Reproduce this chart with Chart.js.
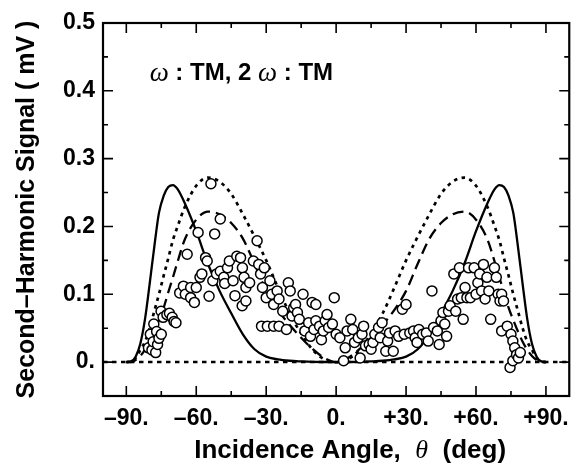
<!DOCTYPE html>
<html>
<head>
<meta charset="utf-8">
<script src="https://cdn.jsdelivr.net/npm/chart.js@4.4.1/dist/chart.umd.min.js"></script>
<style>
    html, body { margin: 0; padding: 0; background: #fff; }
    canvas { display: block; }
</style>
</head>
<body>
<canvas id="chart" width="578" height="466"></canvas>
<script>
// tick values and labels
const xTickValues = [-90, -60, -30, 0, 30, 60, 90];
const xTickLabels = ['–90.', '–60.', '–30.', '0.', '+30.', '+60.', '+90.'];
const xMinorTicks = [-75, -45, -15, 15, 45, 75];
const yTickValues = [0, 0.1, 0.2, 0.3, 0.4, 0.5];
const yTickLabels = ['0.', '0.1', '0.2', '0.3', '0.4', '0.5'];
const yMinorTicks = [0.05, 0.15, 0.25, 0.35, 0.45];

// theory curves
const curveAngles = [-90, -88, -86, -84, -82, -80, -78, -76, -74, -72, -70, -68, -65, -60, -55, -50, -45, -40, -35, -30, -25, -20, -15, -10, -5,
    0, 5, 10, 15, 20, 25, 30, 35, 40, 45, 50, 55, 60, 65, 68, 70, 72, 74, 76, 78, 80, 82, 84, 86, 88, 90];
const solidCurve = [0, 0.001, 0.008, 0.027, 0.063, 0.115, 0.17, 0.22, 0.245, 0.258, 0.261, 0.255, 0.235, 0.193, 0.145, 0.105, 0.072, 0.041, 0.019, 0.008, 0.004, 0.002, 0.001, 0.0003, 0.0001,
    0, 0.0001, 0.0003, 0.001, 0.002, 0.004, 0.008, 0.019, 0.041, 0.072, 0.105, 0.145, 0.193, 0.235, 0.255, 0.261, 0.258, 0.245, 0.22, 0.17, 0.115, 0.063, 0.027, 0.008, 0.001, 0];
const dottedCurve = [0, 0.001, 0.006, 0.018, 0.03, 0.05, 0.075, 0.1, 0.127, 0.153, 0.18, 0.2, 0.228, 0.26, 0.272, 0.266, 0.248, 0.218, 0.185, 0.15, 0.11, 0.072, 0.042, 0.018, 0.004,
    0, 0.004, 0.018, 0.042, 0.072, 0.11, 0.15, 0.185, 0.218, 0.248, 0.266, 0.272, 0.26, 0.228, 0.2, 0.18, 0.153, 0.127, 0.1, 0.075, 0.05, 0.03, 0.018, 0.006, 0.001, 0];
const dashedCurve = [0, 0, 0.003, 0.009, 0.018, 0.03, 0.045, 0.062, 0.08, 0.103, 0.125, 0.148, 0.18, 0.21, 0.222, 0.218, 0.205, 0.182, 0.145, 0.105, 0.077, 0.055, 0.036, 0.019, 0.006,
    0, 0.006, 0.019, 0.036, 0.055, 0.077, 0.105, 0.145, 0.182, 0.205, 0.218, 0.222, 0.21, 0.18, 0.148, 0.125, 0.103, 0.08, 0.062, 0.045, 0.03, 0.018, 0.009, 0.003, 0, 0];
const baselineAngles = [-100, 100];
const baselineValues = [0, 0];

// measured points (open circles)
const pointAngles = [
    -80.5, -79.7, -79.0, -78.5, -78.2, -77.4, -77.0, -76.6, -76.0, -75.1, -75.0, -74.2, -72.6, -71.5, -70.3, -69.5, -68.7,
    -67.1, -65.5, -64.7, -63.9, -62.4, -62.4, -60.8, -60.0, -59.2, -58.4, -57.6, -56.0, -55.3, -54.5, -53.7, -52.9, -52.1, -51.3,
    -49.7, -49.7, -48.2, -47.8, -46.6, -45.8, -44.2, -43.4, -42.6, -41.0, -40.3, -40.2, -39.5, -38.7, -38.7, -37.1, -35.5, -33.9,
    -33.2, -32.4, -32.0, -31.6, -30.8, -30.0, -29.5, -28.4, -27.6, -26.8, -26.8, -25.3, -24.5, -24.5, -22.9, -21.3, -20.5, -19.7,
    -18.9, -18.2, -17.4, -16.6, -15.8, -14.2, -13.4,
    -11.8, -11.0, -10.3, -9.5, -8.7, -8.7, -7.1, -6.3, -5.5, -4.7, -3.9, -3.2, -1.6, -0.8, 0.0, 1.6, 3.2, 3.9, 4.7, 6.3, 7.1, 7.9,
    9.5, 10.3, 11.1, 11.8, 12.6, 14.2, 15.0, 15.8, 16.6, 18.2, 18.9, 19.7, 21.3, 22.1, 22.9, 24.5, 25.3, 26.8, 28.4, 29.2, 30.0,
    31.6, 33.2, 33.9, 34.7, 35.5, 37.1, 38.7, 39.5, 41.1, 41.8, 43.4, 44.2, 45.0, 45.8, 46.6, 47.4, 48.2, 48.9,
    50.5, 51.3, 52.1, 52.9, 53.7, 54.5, 55.3, 56.1, 56.8, 57.6, 59.2, 60.0, 60.8, 61.6, 62.4, 63.2, 63.9, 64.7, 65.5, 66.3,
    67.9, 68.7, 69.5, 70.3, 71.0, 71.0, 71.8, 73.4, 74.6, 75.0, 75.8, 75.8, 76.6, 77.4, 78.2, 79.0
];
const pointSignals = [
    0.021, 0.041, 0.018, 0.030, 0.056, 0.014, 0.045, 0.026, 0.035, 0.075, 0.041, 0.066, 0.070, 0.072, 0.066, 0.060, 0.058,
    0.102, 0.112, 0.100, 0.159, 0.095, 0.110, 0.088, 0.110, 0.191, 0.125, 0.130, 0.154, 0.149, 0.097, 0.263, 0.120, 0.189, 0.130,
    0.211, 0.134, 0.125, 0.116, 0.139, 0.149, 0.120, 0.098, 0.156, 0.154, 0.083, 0.139, 0.125, 0.110, 0.090, 0.117, 0.149, 0.179,
    0.144, 0.130, 0.053, 0.110, 0.139, 0.095, 0.053, 0.120, 0.100, 0.085, 0.053, 0.105, 0.093, 0.053, 0.075, 0.048, 0.117, 0.105,
    0.068, 0.080, 0.085, 0.073, 0.063, 0.100, 0.046,
    0.058, 0.038, 0.088, 0.048, 0.085, 0.061, 0.053, 0.033, 0.046, 0.061, 0.070, 0.051, 0.056, 0.095, 0.041, 0.036, 0.002, 0.021, 0.046, 0.063, 0.048, 0.029,
    0.036, 0.006, 0.041, 0.053, 0.024, 0.026, 0.019, 0.029, 0.041, 0.051, 0.036, 0.058, 0.016, 0.031, 0.043, 0.016, 0.046, 0.038, 0.078, 0.041, 0.085,
    0.043, 0.046, 0.036, 0.029, 0.048, 0.041, 0.043, 0.031, 0.105, 0.051, 0.046, 0.026, 0.061, 0.073, 0.056, 0.038, 0.075, 0.083,
    0.130, 0.075, 0.093, 0.139, 0.095, 0.063, 0.110, 0.095, 0.139, 0.095, 0.139, 0.100, 0.117, 0.130, 0.105, 0.144, 0.093, 0.125, 0.105, 0.063,
    0.139, 0.125, 0.100, 0.090, 0.100, 0.046, 0.090, 0.053, -0.008, 0.041, 0.031, 0.002, 0.021, 0.011, 0.006, 0.014
];

const SANS = '"Liberation Sans", Arial, Helvetica, sans-serif';
const SERIF = '"Liberation Serif", "Times New Roman", serif';

const toXY = (xs, ys) => xs.map((x, i) => ({ x, y: ys[i] }));

const curve = (data, dash, width) => ({
    type: 'line',
    data,
    showLine: true,
    borderColor: '#000',
    borderWidth: width,
    borderDash: dash,
    pointRadius: 0,
    fill: false,
    cubicInterpolationMode: 'monotone'
});

// draws text made of several font runs, starting at x
const drawRuns = (ctx, runs, x, y) => {
    runs.forEach(run => {
        ctx.font = run.font;
        ctx.fillText(run.text, x, y);
        x += ctx.measureText(run.text).width;
    });
};

const runsWidth = (ctx, runs) => runs.reduce((w, run) => {
    ctx.font = run.font;
    return w + ctx.measureText(run.text).width;
}, 0);

// frame, inward ticks, label and x title
const decorations = {
    id: 'decorations',
    afterDraw(chart) {
        const { ctx, chartArea: a, scales: { x, y } } = chart;
        ctx.save();
        ctx.strokeStyle = '#000';
        ctx.fillStyle = '#000';
        ctx.lineWidth = 2.2;
        ctx.strokeRect(a.left, a.top, a.right - a.left, a.bottom - a.top);

        ctx.lineWidth = 1.6;
        ctx.beginPath();
        const xTick = (v, len) => {
            const px = x.getPixelForValue(v);
            ctx.moveTo(px, a.bottom); ctx.lineTo(px, a.bottom - len);
            ctx.moveTo(px, a.top); ctx.lineTo(px, a.top + len);
        };
        const yTick = (v, len) => {
            const py = y.getPixelForValue(v);
            ctx.moveTo(a.left, py); ctx.lineTo(a.left + len, py);
            ctx.moveTo(a.right, py); ctx.lineTo(a.right - len, py);
        };
        xTickValues.forEach(v => xTick(v, 10));
        xMinorTicks.forEach(v => xTick(v, 5));
        yTickValues.forEach(v => yTick(v, 10));
        yMinorTicks.forEach(v => yTick(v, 5));
        ctx.stroke();

        ctx.textBaseline = 'middle';
        ctx.textAlign = 'left';
        const label = [
            { text: 'ω', font: `italic 27px ${SERIF}` },
            { text: ' : TM, 2 ', font: `bold 24px ${SANS}` },
            { text: 'ω', font: `italic 27px ${SERIF}` },
            { text: ' : TM', font: `bold 24px ${SANS}` }
        ];
        drawRuns(ctx, label, x.getPixelForValue(-80), y.getPixelForValue(0.425));

        const title = [
            { text: 'Incidence Angle,  ', font: `bold 26px ${SANS}` },
            { text: 'θ', font: `italic 26px ${SERIF}` },
            { text: '  (deg)', font: `bold 26px ${SANS}` }
        ];
        const cx = (a.left + a.right) / 2 + 14;
        drawRuns(ctx, title, cx - runsWidth(ctx, title) / 2, a.bottom + 55);
        ctx.restore();
    }
};

new Chart(document.getElementById('chart'), {
    type: 'scatter',
    data: {
        datasets: [
            {
                data: toXY(pointAngles, pointSignals),
                pointRadius: 5,
                pointBorderWidth: 1.5,
                borderColor: '#000',
                backgroundColor: '#fff'
            },
            curve(toXY(curveAngles, solidCurve), [], 2.3),
            curve(toXY(curveAngles, dashedCurve), [11, 6], 2.3),
            curve(toXY(curveAngles, dottedCurve), [3.5, 4.5], 2.7),
            curve(toXY(baselineAngles, baselineValues), [4.5, 4.5], 2.5)
        ]
    },
    options: {
        responsive: false,
        animation: false,
        devicePixelRatio: 1,
        layout: { padding: { left: 0, right: 7, top: 23, bottom: 0 } },
        plugins: { legend: { display: false }, tooltip: { enabled: false } },
        scales: {
            x: {
                type: 'linear',
                min: -100,
                max: 100,
                grid: { display: false, drawTicks: false },
                border: { display: false },
                afterBuildTicks: s => { s.ticks = xTickValues.map(v => ({ value: v })); },
                afterFit: s => { s.height = 70; },
                ticks: {
                    autoSkip: false,
                    maxRotation: 0,
                    padding: 9,
                    color: '#000',
                    font: { family: SANS, size: 23, weight: 'bold' },
                    callback: v => xTickLabels[xTickValues.indexOf(v)]
                }
            },
            y: {
                type: 'linear',
                min: -0.05,
                max: 0.5,
                grid: { display: false, drawTicks: false },
                border: { display: false },
                afterBuildTicks: s => { s.ticks = yTickValues.map(v => ({ value: v })); },
                afterFit: s => { s.width = 103; },
                ticks: {
                    autoSkip: false,
                    padding: 8,
                    color: '#000',
                    font: { family: SANS, size: 23, weight: 'bold' },
                    callback: v => yTickLabels[yTickValues.indexOf(v)]
                },
                title: {
                    display: true,
                    text: 'Second–Harmonic Signal ( mV )',
                    color: '#000',
                    font: { family: SANS, size: 25, weight: 'bold' },
                    padding: { top: 12, bottom: 0 }
                }
            }
        }
    },
    plugins: [decorations]
});
</script>
</body>
</html>
